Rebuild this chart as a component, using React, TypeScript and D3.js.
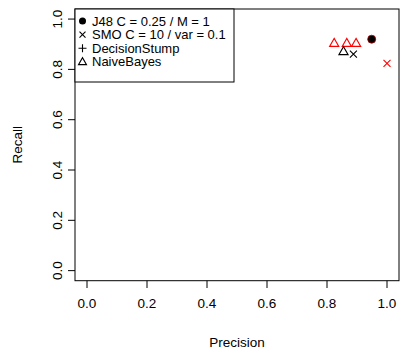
import React from "react";
import * as d3 from "d3";

const legendLabels = ["J48 C = 0.25 / M = 1", "SMO C = 10 / var = 0.1", "DecisionStump", "NaiveBayes"];
const xTicks = [0, 0.2, 0.4, 0.6, 0.8, 1.0];
const yTicks = [0, 0.2, 0.4, 0.6, 0.8, 1.0];

// points: precision, recall, color
const j48Precision = [0.949];
const j48Recall = [0.92];
const smoPrecision = [0.888, 1.0];
const smoRecall = [0.861, 0.824];
const smoColors = ["black", "red"];
const nbPrecision = [0.824, 0.866, 0.897, 0.855];
const nbRecall = [0.902, 0.902, 0.902, 0.869];
const nbColors = ["red", "red", "red", "black"];

const W = 401, H = 354;
const x = d3.scaleLinear().domain([-0.04, 1.04]).range([75, 399]);
const y = d3.scaleLinear().domain([-0.04, 1.04]).range([280.7, 9]);
const FONT = "Liberation Sans, Arial, sans-serif";
const FS = 13.5;
const LFS = 13;

function Tri({ cx, cy, color, s = 4.6 }: { cx: number; cy: number; color: string; s?: number }) {
  const h = s * 1.732;
  const p = `M${cx - s},${cy + h / 3} L${cx + s},${cy + h / 3} L${cx},${cy - (2 * h) / 3} Z`;
  return <path d={p} fill="none" stroke={color} strokeWidth={1.1} />;
}
function Cross({ cx, cy, color, s = 3.5 }: { cx: number; cy: number; color: string; s?: number }) {
  return (
    <path d={`M${cx - s},${cy - s} L${cx + s},${cy + s} M${cx - s},${cy + s} L${cx + s},${cy - s}`} stroke={color} strokeWidth={1.1} />
  );
}
function Plus({ cx, cy, color, s = 4.5 }: { cx: number; cy: number; color: string; s?: number }) {
  return <path d={`M${cx - s},${cy} L${cx + s},${cy} M${cx},${cy - s} L${cx},${cy + s}`} stroke={color} strokeWidth={1.1} />;
}

export default function App() {
  const legendX = 75, legendY = 9, legendW = 159, legendH = 73;
  const rowY = [21, 34.6, 48.2, 61.8];
  return (
    <svg width={W} height={H} style={{ position: "absolute", left: 0, top: 0, background: "white" }} fontFamily={FONT}>
      <rect x={0} y={0} width={W} height={H} fill="white" />
      {xTicks.map((t) => (
        <g key={"x" + t}>
          <line x1={x(t)} x2={x(t)} y1={280.7} y2={288} stroke="black" />
          <text x={x(t)} y={308} fontSize={FS} textAnchor="middle" fill="black">{t.toFixed(1)}</text>
        </g>
      ))}
      {yTicks.map((t) => (
        <g key={"y" + t}>
          <line x1={68} x2={75} y1={y(t)} y2={y(t)} stroke="black" />
          <text transform={`translate(62,${y(t)}) rotate(-90)`} fontSize={FS} textAnchor="middle" fill="black">{t.toFixed(1)}</text>
        </g>
      ))}
      <rect x={75} y={9} width={324} height={271.7} fill="none" stroke="black" />
      <text x={237} y={346.5} fontSize={FS} textAnchor="middle">Precision</text>
      <text transform={`translate(22,${(9 + 280.7) / 2}) rotate(-90)`} fontSize={FS} textAnchor="middle">Recall</text>

      <rect x={legendX} y={legendY} width={legendW} height={legendH} fill="white" stroke="black" />
      <circle cx={82.5} cy={rowY[0]} r={3.5} fill="black" />
      <Cross cx={82.5} cy={rowY[1]} color="black" s={3} />
      <Plus cx={82.5} cy={rowY[2]} color="black" s={4} />
      <Tri cx={82.5} cy={rowY[3] + 0.5} color="black" s={4} />
      {legendLabels.map((l, i) => (
        <text key={l} x={92} y={rowY[i] + 4.6} fontSize={LFS} fill="black">{l}</text>
      ))}

      {nbPrecision.map((p, i) => (
        <Tri key={"nb" + i} cx={x(p)} cy={y(nbRecall[i])} color={nbColors[i]} />
      ))}
      {smoPrecision.map((p, i) => (
        <Cross key={"smo" + i} cx={x(p)} cy={y(smoRecall[i])} color={smoColors[i]} />
      ))}
      {j48Precision.map((p, i) => (
        <circle key={"j" + i} cx={x(p)} cy={y(j48Recall[i])} r={4} fill="black" stroke="#b00000" strokeWidth={0.8} />
      ))}
    </svg>
  );
}
